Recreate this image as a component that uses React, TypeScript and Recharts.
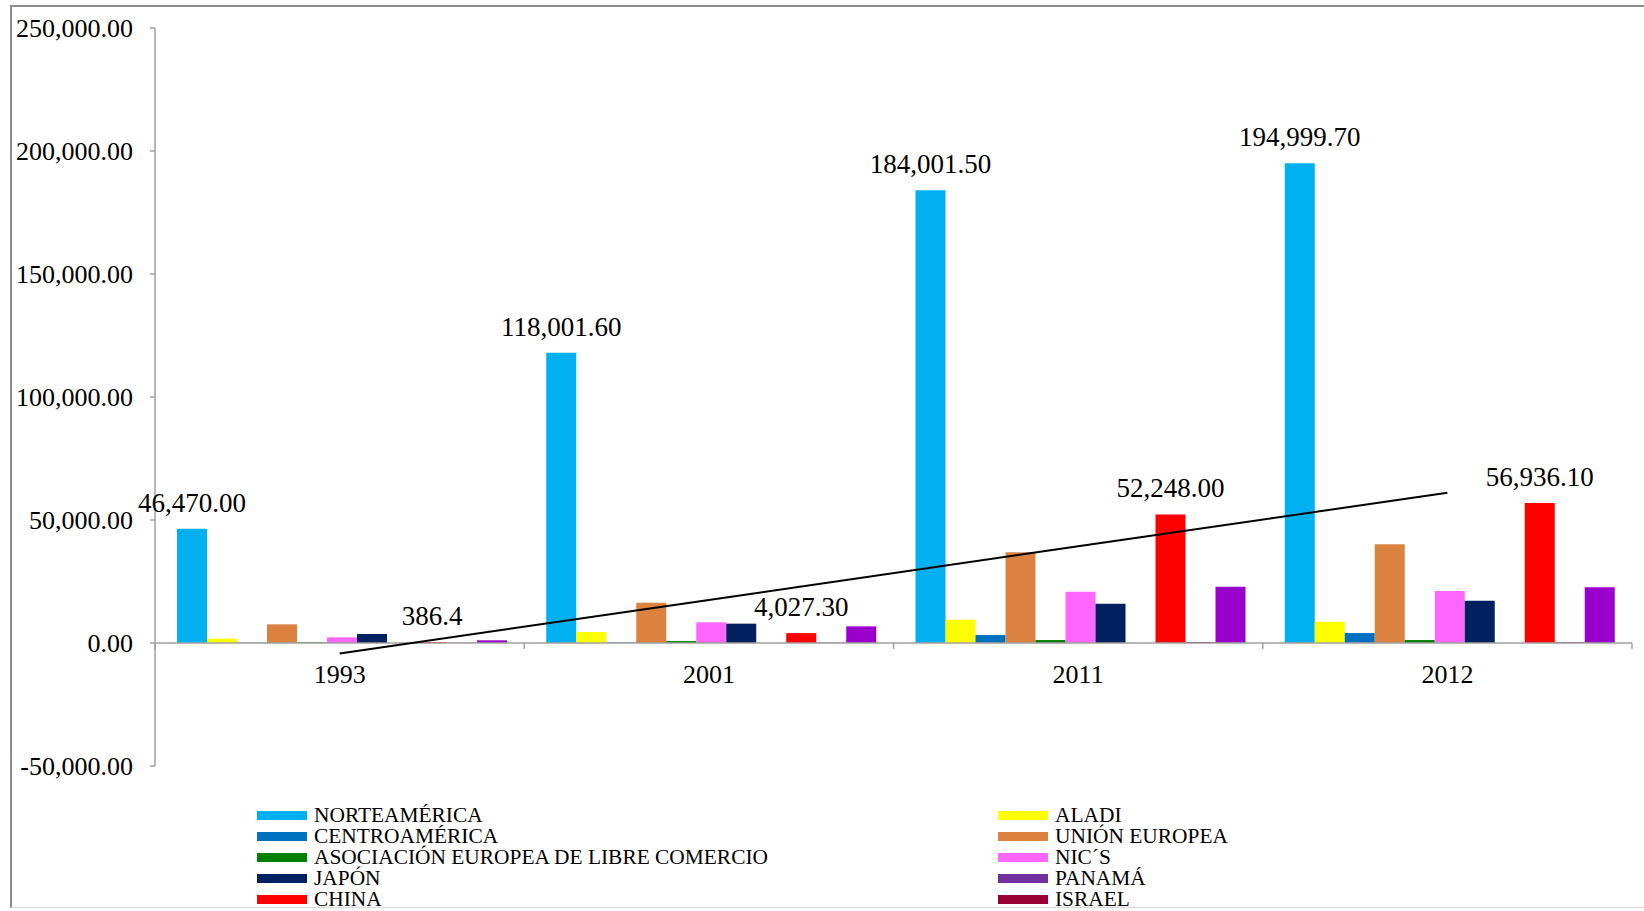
import { Bar, ComposedChart, LabelList, Line, ReferenceLine, XAxis, YAxis } from 'recharts'

const categories = ['1993', '2001', '2011', '2012']

const norteamerica = [46470, 118001.6, 184001.5, 194999.7]
const aladi = [1800, 4460, 9450, 8640]
const centroamerica = [150, 250, 3240, 4050]
const unionEuropea = [7580, 16380, 36900, 40150]
const aelc = [300, 800, 1200, 1200]
const nics = [2300, 8400, 20800, 21090]
const japon = [3650, 7870, 15940, 17150]
const panama = [0, 0, 0, 0]
const china = [386.4, 4027.3, 52248, 56936.1]
const israel = [100, 150, 400, 350]
const otros = [1100, 6770, 22830, 22700]

const norteLabels = ['46,470.00', '118,001.60', '184,001.50', '194,999.70']
const chinaLabels = ['386.4', '4,027.30', '52,248.00', '56,936.10']

const yTicks = [-50000, 0, 50000, 100000, 150000, 200000, 250000]

// linear trendline of CHINA (least squares, like Excel)
const n = china.length
const xMean = (n + 1) / 2
const yMean = china.reduce((a, b) => a + b, 0) / n
const slope =
  china.reduce((acc, y, i) => acc + (i + 1 - xMean) * (y - yMean), 0) /
  china.reduce((acc, _y, i) => acc + (i + 1 - xMean) ** 2, 0)
const trend = china.map((_y, i) => yMean + slope * (i + 1 - xMean))

const data = categories.map((year, i) => ({
  year,
  norteamerica: norteamerica[i],
  aladi: aladi[i],
  centroamerica: centroamerica[i],
  unionEuropea: unionEuropea[i],
  aelc: aelc[i],
  nics: nics[i],
  japon: japon[i],
  panama: panama[i],
  china: china[i],
  israel: israel[i],
  otros: otros[i],
  trend: trend[i],
}))

const series = [
  { key: 'norteamerica', name: 'NORTEAMÉRICA', color: '#00B0F0' },
  { key: 'aladi', name: 'ALADI', color: '#FFFF00' },
  { key: 'centroamerica', name: 'CENTROAMÉRICA', color: '#0070C0' },
  { key: 'unionEuropea', name: 'UNIÓN EUROPEA', color: '#DC8240' },
  { key: 'aelc', name: 'ASOCIACIÓN EUROPEA DE LIBRE COMERCIO', color: '#008000' },
  { key: 'nics', name: 'NIC´S', color: '#FF66FF' },
  { key: 'japon', name: 'JAPÓN', color: '#002060' },
  { key: 'panama', name: 'PANAMÁ', color: '#7030A0' },
  { key: 'china', name: 'CHINA', color: '#FF0000' },
  { key: 'israel', name: 'ISRAEL', color: '#990033' },
  { key: 'otros', name: '', color: '#9900CC' },
]

const legendLeft = ['norteamerica', 'centroamerica', 'aelc', 'japon', 'china']
const legendRight = ['aladi', 'unionEuropea', 'nics', 'panama', 'israel']

const FONT = "'Times New Roman', 'Liberation Serif', serif"
const W = 1644
const H = 911
const X_AXIS_H = 30
const M = { top: 28, right: 12, bottom: 145 - X_AXIS_H, left: 0 }
const Y_AXIS_W = 155
const PLOT_W = W - M.left - M.right - Y_AXIS_W
const PLOT_H = H - M.top - M.bottom - X_AXIS_H
const Y_MIN = -50000
const Y_MAX = 250000
const ZERO_Y = M.top + (PLOT_H * Y_MAX) / (Y_MAX - Y_MIN)
const BAND = PLOT_W / categories.length

const fmt = (v: number) =>
  v.toLocaleString('en-US', { minimumFractionDigits: 2, maximumFractionDigits: 2 })

const CategoryTick = (props: any) => {
  const { x, payload, index } = props
  return (
    <g>
      <text
        x={x}
        y={ZERO_Y + 31}
        dy="0.35em"
        textAnchor="middle"
        fontSize={26}
        fontFamily={FONT}
        fill="#000"
      >
        {payload.value}
      </text>
      <line x1={x - BAND / 2} x2={x - BAND / 2} y1={ZERO_Y} y2={ZERO_Y + 6} stroke="#a0a0a0" strokeWidth={1.5} />
      {index === categories.length - 1 && (
        <line x1={x + BAND / 2} x2={x + BAND / 2} y1={ZERO_Y} y2={ZERO_Y + 6} stroke="#a0a0a0" strokeWidth={1.5} />
      )}
    </g>
  )
}

const barLabel = (labels: string[]) => (p: any) => (
  <text
    x={p.x + p.width / 2}
    y={p.y - 17}
    textAnchor="middle"
    fontSize={27}
    fontFamily={FONT}
    fill="#000"
  >
    {labels[p.index]}
  </text>
)

function LegendColumn({ keys, left }: { keys: string[]; left: number }) {
  return (
    <div style={{ position: 'absolute', left, top: 805 }}>
      {keys.map((k) => {
        const s = series.find((item) => item.key === k)!
        return (
          <div key={k} style={{ display: 'flex', alignItems: 'center', height: 21 }}>
            <div style={{ width: 50, height: 9, background: s.color, marginRight: 7 }} />
            <span style={{ fontFamily: FONT, fontSize: 21.4, lineHeight: '21px', color: '#000', whiteSpace: 'nowrap' }}>
              {s.name}
            </span>
          </div>
        )
      })}
    </div>
  )
}

export default function App() {
  return (
    <div style={{ position: 'absolute', left: 0, top: 0, width: W, height: H, overflow: 'hidden', background: '#fff' }}>
      <div
        style={{
          position: 'absolute',
          left: 10,
          top: 5,
          width: 1700,
          height: 900,
          borderLeft: '2px solid #8c8c8c',
          borderTop: '2px solid #8c8c8c',
          borderBottom: '1px solid #d9d9d9',
        }}
      />
      <div style={{ position: 'absolute', left: 0, top: 0 }}>
        <ComposedChart
          width={W}
          height={H}
          data={data}
          margin={M}
          barCategoryGap={22}
          barGap={0}
        >
          <YAxis
            width={Y_AXIS_W}
            type="number"
            domain={[Y_MIN, Y_MAX]}
            ticks={yTicks}
            interval={0}
            tickFormatter={fmt}
            tickSize={5}
            tickMargin={17}
            axisLine={{ stroke: '#a0a0a0', strokeWidth: 1.5 }}
            tickLine={{ stroke: '#a0a0a0', strokeWidth: 1.5 }}
            tick={{ fontSize: 26, fontFamily: FONT, fill: '#000' }}
          />
          <XAxis
            dataKey="year"
            height={X_AXIS_H}
            axisLine={false}
            tickLine={false}
            interval={0}
            tick={CategoryTick}
          />
          <ReferenceLine y={0} stroke="#a0a0a0" strokeWidth={1.5} />
          {series.map((s) => (
            <Bar key={s.key} dataKey={s.key} fill={s.color} isAnimationActive={false}>
              {s.key === 'norteamerica' && <LabelList dataKey={s.key} content={barLabel(norteLabels)} />}
              {s.key === 'china' && <LabelList dataKey={s.key} content={barLabel(chinaLabels)} />}
            </Bar>
          ))}
          <Line
            type="linear"
            dataKey="trend"
            stroke="#000"
            strokeWidth={2}
            dot={false}
            activeDot={false}
            isAnimationActive={false}
          />
        </ComposedChart>
      </div>
      <LegendColumn keys={legendLeft} left={257} />
      <LegendColumn keys={legendRight} left={998} />
    </div>
  )
}
